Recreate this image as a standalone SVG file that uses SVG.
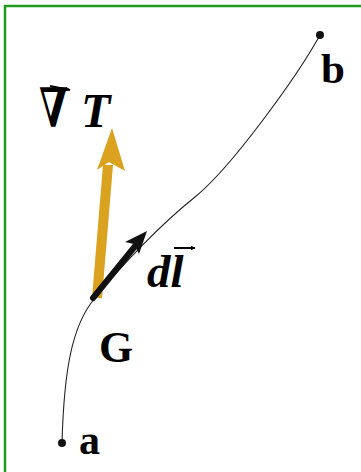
<svg xmlns="http://www.w3.org/2000/svg" width="361" height="472" viewBox="0 0 361 472">
<style>
.lbl{font-family:"Liberation Serif","Times New Roman",serif;font-weight:bold;fill:#000}
.it{font-style:italic}
.nab{font-family:"DejaVu Serif",serif;font-weight:bold;fill:#000}
</style>
<defs>
<marker id="vec" viewBox="0 0 10 10" refX="9" refY="5" markerWidth="5" markerHeight="5" markerUnits="userSpaceOnUse" orient="auto">
<path d="M0,0 L10,5 L0,10 z" fill="#000"/>
</marker>
</defs>
<rect width="361" height="472" fill="#fff"/>
<path d="M5,472 V6 H361" fill="none" stroke="#229922" stroke-width="2.5"/>
<g id="connectors">
<path id="path" d="M62,443 C64,370 72,325 95,298 C122,265 160,225 195,197 C232,167 298,75 320,35" fill="none" stroke="#222" stroke-width="1.1"/>
<g id="gradT-arrow">
<path d="M92,298 L102,298 L113,165 L103,165 Z" fill="#DAA21E"/>
<path d="M112,128 L125,171 L109,162 L97,170 Z" fill="#DAA21E"/>
</g>
<g id="dl-arrow">
<line x1="93" y1="298" x2="136" y2="245" stroke="#111" stroke-width="6" stroke-linecap="round"/>
<path d="M147,231 L139,254 L134,244 L125,242 Z" fill="#111"/>
</g>
</g>
<g id="a">
<circle cx="62" cy="443" r="4" fill="#111"/>
<text class="lbl" x="79" y="454" font-size="42">a</text>
</g>
<g id="b">
<circle cx="320" cy="35" r="4" fill="#111"/>
<text class="lbl" x="321" y="83" font-size="43">b</text>
</g>
<g id="G">
<text class="lbl" x="99" y="362" font-size="44">G</text>
</g>
<g id="gradT-label">
<text class="nab" transform="translate(39,127) scale(0.82,1.18)" font-size="46">∇</text>
<text class="lbl it" x="81" y="127" font-size="48">T</text>
<line x1="50" y1="86" x2="70" y2="90" stroke="#000" stroke-width="2.2" marker-end="url(#vec)"/>
</g>
<g id="dl-label">
<text class="lbl it" x="147" y="287" font-size="47">dl</text>
<line x1="174" y1="248" x2="195" y2="248" stroke="#000" stroke-width="2" marker-end="url(#vec)"/>
</g>
</svg>
